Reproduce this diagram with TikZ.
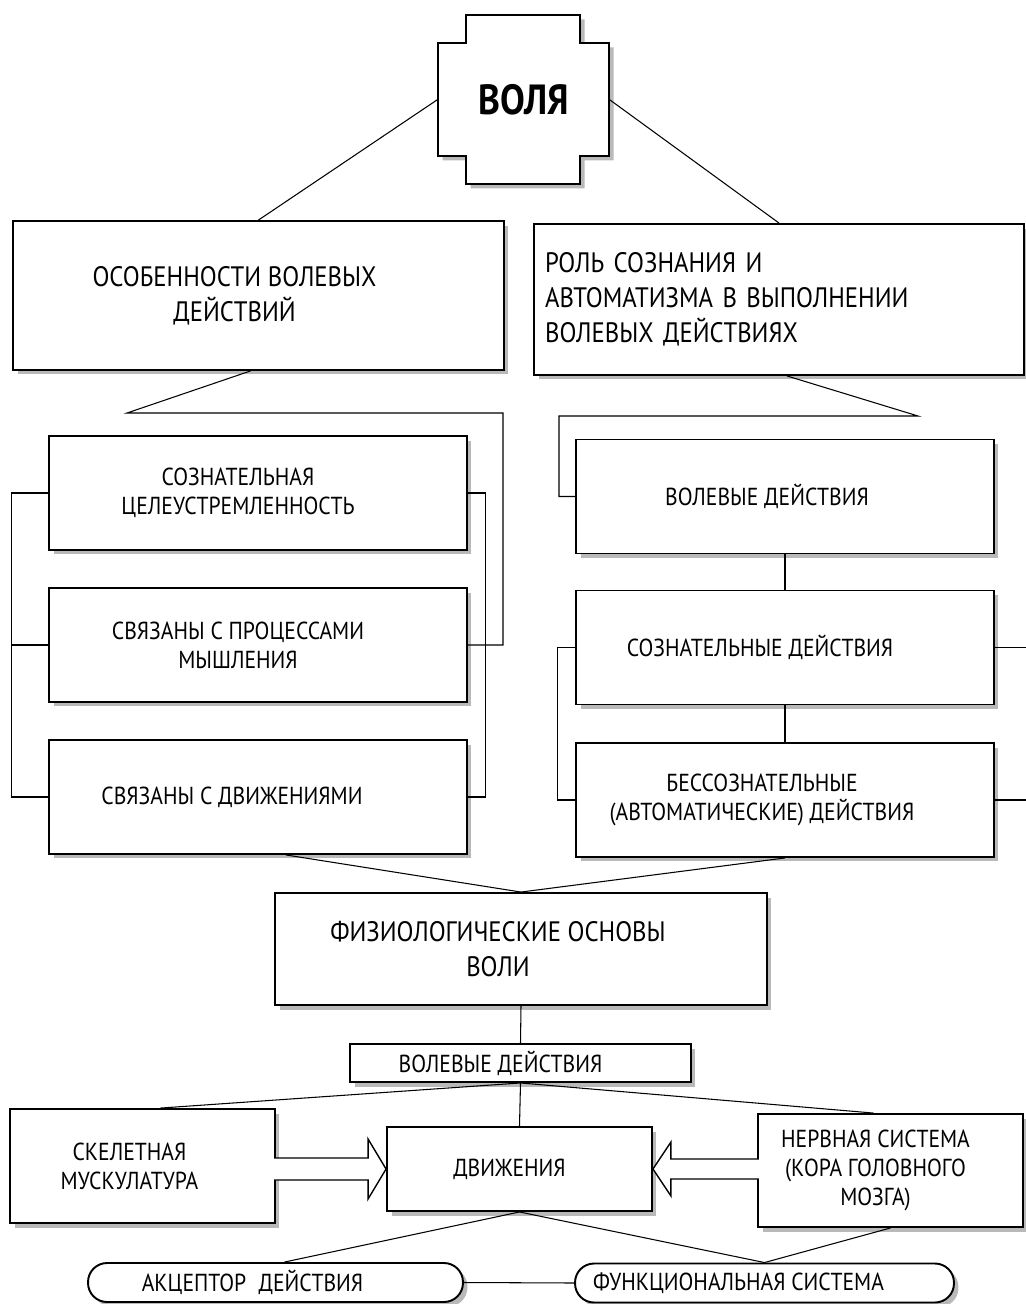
\documentclass[tikz,border=0pt]{standalone}
\usepackage{fontspec}
\setmainfont{PT Sans}[FakeStretch=0.88]
\usetikzlibrary{calc,shadows}

\newcommand{\bigfont}{\fontsize{16}{20}\selectfont}
\newcommand{\midfont}{\fontsize{14}{16.5}\selectfont}

\tikzset{
  box/.style={draw, line width=1.1pt, fill=white, inner sep=0pt,
    drop shadow={shadow xshift=0.09cm, shadow yshift=-0.09cm, fill=gray!55, opacity=1}},
  colbox/.style={box, minimum width=8.36cm, minimum height=2.28cm},
  lowbox/.style={box, minimum width=5.3cm},
  pill/.style={box, rounded corners=0.38cm, minimum height=0.78cm},
  txt/.style={align=center, inner sep=0pt, font=\midfont},
  bigtxt/.style={txt, font=\bigfont},
  link/.style={line width=0.6pt},
  fatarr/.style={draw, fill=white, line width=0.8pt}
}

\begin{document}
\begin{tikzpicture}[x=0.02cm, y=-0.02cm]
    \useasboundingbox (0,0) rectangle (1025,1304);

    % =========================================
    % 1. Вершина: крест "ВОЛЯ"
    % =========================================
    \draw[line width=1.1pt, fill=white,
          drop shadow={shadow xshift=0.09cm, shadow yshift=-0.09cm, fill=gray!55, opacity=1}]
        (466,15) -- (580,15) -- (580,43) -- (609,43) -- (609,156) -- (580,156)
        -- (580,184) -- (466,184) -- (466,156) -- (438,156) -- (438,43) -- (466,43) -- cycle;
    \node[font=\fontsize{24}{28}\selectfont\bfseries, minimum width=3.42cm, minimum height=2.26cm]
        (volya) at (523.5,99.5) {ВОЛЯ};

    % =========================================
    % 2. Два верхних блока
    % =========================================
    \node[box, minimum width=9.82cm, minimum height=2.98cm] (osob) at (258.5,295.5) {};
    \node[bigtxt] (osob-t) at ([xshift=-0.48cm]osob.center) {ОСОБЕННОСТИ ВОЛЕВЫХ\\ДЕЙСТВИЙ};
    \node[box, minimum width=9.8cm, minimum height=3.02cm, text width=9.36cm, align=left, font=\bigfont]
        (rol) at (779,299.5) {РОЛЬ СОЗНАНИЯ И\\АВТОМАТИЗМА В ВЫПОЛНЕНИИ\\ВОЛЕВЫХ ДЕЙСТВИЯХ};

    \draw[link] (volya.west) -- (osob.north);
    \draw[link] (volya.east) -- (rol.north);

    % =========================================
    % 3. Левая колонка
    % =========================================
    \node[colbox] (cel) at (258,493) {};
    \node[txt] (cel-t) at ([xshift=-0.4cm]cel.center) {СОЗНАТЕЛЬНАЯ\\ЦЕЛЕУСТРЕМЛЕННОСТЬ};
    \node[colbox] (sv2) at (258,645) {};
    \node[txt] (sv2-t) at ([xshift=-0.4cm]sv2.center) {СВЯЗАНЫ С ПРОЦЕССАМИ\\МЫШЛЕНИЯ};
    \node[colbox] (sv3) at (258,797) {};
    \node[txt] (sv3-t) at ([xshift=-0.52cm]sv3.center) {СВЯЗАНЫ С ДВИЖЕНИЯМИ};

    \coordinate (jl) at (127,413);
    \coordinate (jr) at (503,413);
    \draw[link] ([xshift=-0.16cm]osob.south) -- (jl) -- (jr) |- (sv2.east);
    \draw[link] (cel.west) -- ++(-37,0) |- (sv3.west);
    \draw[link, line width=1pt] (sv2.west) -- ++(-37,0);
    \draw[link] (cel.east) -- ++(18,0) |- (sv3.east);

    % =========================================
    % 4. Правая колонка
    % =========================================
    \node[colbox] (vd1) at (785,496.5) {};
    \node[txt] (vd1-t) at ([xshift=-0.36cm]vd1.center) {ВОЛЕВЫЕ ДЕЙСТВИЯ};
    \node[colbox] (sd)  at (785,647.5) {};
    \node[txt] (sd-t) at ([xshift=-0.5cm]sd.center) {СОЗНАТЕЛЬНЫЕ ДЕЙСТВИЯ};
    \node[colbox] (bd)  at (785,800) {};
    \node[txt] (bd-t) at ([xshift=-0.46cm]bd.center) {БЕССОЗНАТЕЛЬНЫЕ\\(АВТОМАТИЧЕСКИЕ) ДЕЙСТВИЯ};

    \coordinate (kr) at (918,416);
    \coordinate (kl) at (559,416);
    \draw[link] ([xshift=0.16cm]rol.south) -- (kr) -- (kl) |- (vd1.west);
    \draw[link] (vd1.south) -- (sd.north);
    \draw[link] (sd.south) -- (bd.north);
    \draw[link] (sd.west) -- ++(-18,0) |- (bd.west);
    \draw[link] (sd.east) -- ++(32,0); % уходят за край
    \draw[link] (bd.east) -- ++(32,0);

    % =========================================
    % 5. Физиологические основы
    % =========================================
    \node[box, minimum width=9.84cm, minimum height=2.24cm] (phys) at (521,949) {};
    \node[bigtxt] (phys-t) at ([xshift=-0.46cm]phys.center) {ФИЗИОЛОГИЧЕСКИЕ ОСНОВЫ\\ВОЛИ};
    \draw[link] ([xshift=0.56cm]sv3.south) -- (phys.north);
    \draw[link] (bd.south) -- (phys.north);

    \node[box, minimum width=6.82cm, minimum height=0.76cm] (vd2) at (520.5,1063) {};
    \node[txt] (vd2-t) at ([xshift=-0.4cm]vd2.center) {ВОЛЕВЫЕ ДЕЙСТВИЯ};
    \draw[link] (phys.south) -- (vd2.north);

    % =========================================
    % 6. Нижний ряд
    % =========================================
    \node[lowbox, minimum height=2.28cm] (skel) at (142.5,1166) {};
    \node[txt] (skel-t) at ([xshift=-0.26cm]skel.center) {СКЕЛЕТНАЯ\\МУСКУЛАТУРА};
    \node[lowbox, minimum height=1.68cm] (dv) at (519.5,1169) {};
    \node[txt] (dv-t) at ([xshift=-0.2cm]dv.center) {ДВИЖЕНИЯ};
    \node[lowbox, minimum height=2.26cm] (nerv) at (890.5,1170.5) {};
    \node[txt] (nerv-t) at ([xshift=-0.3cm]nerv.center) {НЕРВНАЯ СИСТЕМА\\(КОРА ГОЛОВНОГО\\МОЗГА)};

    \draw[link] (vd2.south) -- ([xshift=0.36cm]skel.north);
    \draw[link] (vd2.south) -- (dv.north);
    \draw[link] (vd2.south) -- ([xshift=-0.34cm]nerv.north);

    % полые стрелки к "ДВИЖЕНИЯ"
    \draw[fatarr] ($(dv.west)+(-112,-11)$) -- ($(dv.west)+(-18,-11)$) -- ($(dv.west)+(-18,-30)$)
        -- (dv.west) -- ($(dv.west)+(-18,30)$) -- ($(dv.west)+(-18,11)$) -- ($(dv.west)+(-112,11)$);
    \draw[fatarr] ($(dv.east)+(106,-10)$) -- ($(dv.east)+(18,-10)$) -- ($(dv.east)+(18,-27)$)
        -- (dv.east) -- ($(dv.east)+(18,27)$) -- ($(dv.east)+(18,10)$) -- ($(dv.east)+(106,10)$);

    % овалы
    \node[pill, minimum width=7.5cm] (akc) at (275.5,1282.5) {};
    \node[txt] (akc-t) at ([xshift=-0.46cm]akc.center) {АКЦЕПТОР\enspace ДЕЙСТВИЯ};
    \node[pill, minimum width=7.58cm] (fun) at (764.5,1283) {};
    \node[txt] (fun-t) at ([xshift=-0.52cm]fun.center) {ФУНКЦИОНАЛЬНАЯ СИСТЕМА};

    \draw[link] (akc.east) -- (fun.west);
    \draw[link] (dv.south) -- ([xshift=0.18cm]akc.north);
    \draw[link] (dv.south) -- (fun.north);
    \draw[link] (nerv.south) -- (fun.north);

\end{tikzpicture}
\end{document}
